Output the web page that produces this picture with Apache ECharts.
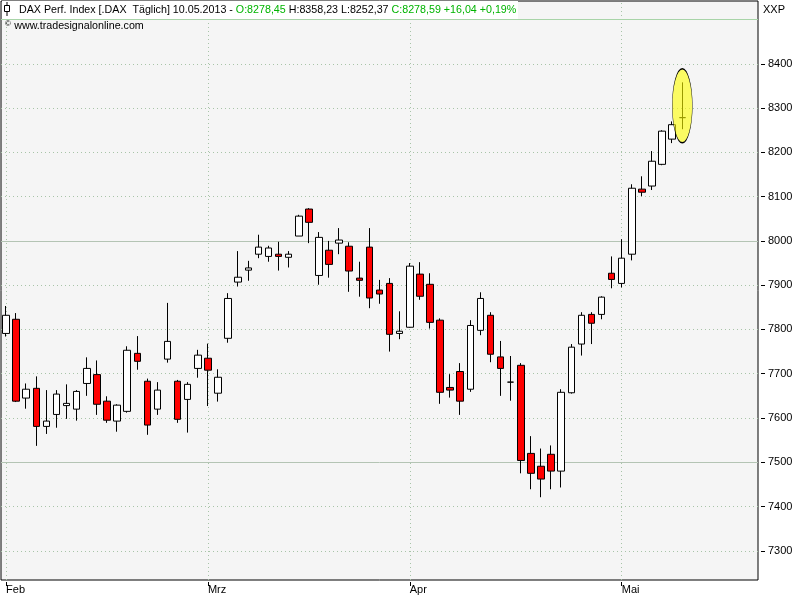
<!DOCTYPE html>
<html><head><meta charset="utf-8">
<script src="https://cdn.jsdelivr.net/npm/echarts@6/dist/echarts.min.js"></script>
<style>html,body{margin:0;padding:0;background:#fff}#c{width:800px;height:600px}</style>
</head><body><div id="c"></div>
<script>
// ---- data ----
const dates = [
 '01.02.2013','04.02.2013','05.02.2013','06.02.2013','07.02.2013','08.02.2013','11.02.2013','12.02.2013','13.02.2013','14.02.2013',
 '15.02.2013','18.02.2013','19.02.2013','20.02.2013','21.02.2013','22.02.2013','25.02.2013','26.02.2013','27.02.2013','28.02.2013',
 '01.03.2013','04.03.2013','05.03.2013','06.03.2013','07.03.2013','08.03.2013','11.03.2013','12.03.2013','13.03.2013','14.03.2013',
 '15.03.2013','18.03.2013','19.03.2013','20.03.2013','21.03.2013','22.03.2013','25.03.2013','26.03.2013','27.03.2013','28.03.2013',
 '02.04.2013','03.04.2013','04.04.2013','05.04.2013','08.04.2013','09.04.2013','10.04.2013','11.04.2013','12.04.2013','15.04.2013',
 '16.04.2013','17.04.2013','18.04.2013','19.04.2013','22.04.2013','23.04.2013','24.04.2013','25.04.2013','26.04.2013','29.04.2013',
 '30.04.2013','02.05.2013','03.05.2013','06.05.2013','07.05.2013','08.05.2013','09.05.2013','10.05.2013'
];
const opens = [
 7791,7823,7645,7667,7581,7608,7628,7620,7678,7698,
 7638,7593,7615,7746,7683,7620,7733,7683,7642,7712,
 7735,7656,7780,7907,7934,7970,7965,7970,7963,8011,
 8072,7922,7979,7995,7988,7916,7986,7889,7904,7791,
 7805,7925,7902,7821,7669,7705,7665,7798,7832,7738,
 7681,7719,7520,7491,7518,7480,7657,7767,7834,7834,
 7927,7904,7970,8117,8124,8173,8230,8278.45
];
const highs = [
 7853,7837,7678,7694,7663,7663,7676,7663,7737,7730,
 7649,7631,7762,7785,7689,7681,7860,7686,7681,7754,
 7768,7710,7882,7977,7955,8014,7989,7998,7977,8059,
 8074,8020,8000,8029,7997,7953,8029,7912,7916,7841,
 7950,7952,7927,7825,7699,7724,7821,7884,7839,7774,
 7740,7724,7559,7531,7538,7665,7767,7839,7839,7875,
 7965,8004,8128,8146,8203,8250,8270,8358.23
];
const lows = [
 7784,7636,7621,7537,7564,7578,7598,7594,7650,7607,
 7589,7569,7612,7709,7562,7607,7725,7589,7567,7691,
 7627,7637,7770,7897,7910,7961,7953,7933,7940,8011,
 7995,7901,7917,7970,7885,7874,7848,7858,7750,7778,
 7804,7867,7802,7632,7646,7607,7659,7787,7726,7650,
 7639,7475,7439,7421,7439,7443,7655,7741,7767,7823,
 7893,7895,7956,8101,8115,8171,8221,8252.37
];
const closes = [
 7832,7638,7665,7581,7593,7654,7633,7660,7712,7631,
 7595,7629,7753,7728,7584,7663,7773,7597,7676,7742,
 7708,7692,7870,7918,7939,7986,7984,7965,7970,8056,
 8042,8008,7947,8002,7932,7911,7871,7880,7789,7796,
 7943,7875,7816,7658,7663,7638,7809,7870,7744,7712,
 7681,7504,7475,7462,7480,7658,7760,7832,7814,7873,
 7913,7961,8119,8110,8180,8248,8262.55,8278.59
];
const monthNames = {'01':'Jan','02':'Feb','03':'Mrz','04':'Apr','05':'Mai','06':'Jun'};
const yTickValues = [7300,7400,7500,7600,7700,7800,7900,8000,8100,8200,8300,8400];
const solidLevels = [7500, 8000];
const topLevel = 8500;
const yMin = 7234, yMax = 8542;
const padSlots = 7;
const instrument = 'DAX Perf. Index [.DAX  Täglich]';
const watermark = 'www.tradesignalonline.com';
const extraLabel = 'XXP';

// ---- derived ----
const FONT = 'Liberation Sans';
const categories = dates.concat(Array.from({length: padSlots}, (_, i) => 'pad' + i));
const monthStarts = [];
dates.forEach((d, i) => { if (i === 0 || d.slice(3,5) !== dates[i-1].slice(3,5)) monthStarts.push(i); });
const msSet = new Set(monthStarts);
const ohlc = dates.map((d, i) => [opens[i], closes[i], lows[i], highs[i]]);
const last = dates.length - 1;
const fmt = v => v.toFixed(2).replace('.', ',');
const chg = closes[last] - closes[last - 1];
const pct = chg / closes[last - 1] * 100;
const sign = v => (v >= 0 ? '+' : '');
const headerRich = '{k|' + instrument + ' ' + dates[last] + ' - }' +
  '{g|O:' + fmt(opens[last]) + '}' +
  '{k| H:' + fmt(highs[last]) + ' L:' + fmt(lows[last]) + ' }' +
  '{g|C:' + fmt(closes[last]) + ' ' + sign(chg) + fmt(chg) + ' ' + sign(pct) + fmt(pct) + '%}';

const chart = echarts.init(document.getElementById('c'), null, {renderer: 'canvas'});
const dotted = {color: '#a8c4a8', type: [1, 3], width: 1};
const HF = 10.7;
chart.setOption({
  animation: false,
  backgroundColor: '#ffffff',
  grid: {left: 1, top: 1, width: 757, height: 579, show: true, backgroundColor: '#f5f5f5',
         borderColor: '#000', borderWidth: 1, containLabel: false},
  xAxis: {
    type: 'category', data: categories, boundaryGap: true, offset: 2,
    axisLine: {show: false},
    axisTick: {show: true, alignWithLabel: true, length: 4, interval: i => msSet.has(i), lineStyle: {color: '#000'}},
    axisLabel: {interval: i => msSet.has(i), formatter: v => monthNames[v.slice(3,5)] || '',
                align: 'left', margin: 2, color: '#000', fontSize: 11, fontFamily: FONT},
    splitLine: {show: false}
  },
  yAxis: {
    type: 'value', position: 'right', min: yMin, max: yMax, offset: 3,
    axisLine: {show: false},
    axisTick: {show: true, length: 4, customValues: yTickValues, lineStyle: {color: '#000'}},
    axisLabel: {customValues: yTickValues, formatter: v => String(v), margin: 7, color: '#000', fontSize: 11, fontFamily: FONT},
    splitLine: {show: true, lineStyle: dotted}
  },
  series: [
    {
      type: 'candlestick', data: ohlc, barWidth: 7, silent: true, z: 2,
      itemStyle: {color: '#ffffff', color0: '#ff0000', borderColor: '#000000', borderColor0: '#000000',
                  borderColorDoji: '#000000', borderWidth: 1},
      markLine: {
        silent: true, z: 1, symbol: ['none', 'none'], label: {show: false}, animation: false,
        data: monthStarts.map(i => ({xAxis: i, lineStyle: dotted}))
          .concat(solidLevels.map(v => ({yAxis: v, lineStyle: {color: '#b4c4b4', type: 'solid', width: 1}})))
          .concat([{yAxis: topLevel, lineStyle: {color: '#a8d4a8', type: 'solid', width: 1}}])
      }
    },
    {
      type: 'scatter', silent: true, z: 5,
      data: [[last, (highs[last] + lows[last]) / 2]],
      symbol: 'circle', symbolSize: [20, 74],
      itemStyle: {color: 'rgba(255,255,0,0.6)', borderColor: '#000', borderWidth: 0.8, opacity: 1}
    }
  ],
  graphic: [
    {type: 'rect', z: 100, shape: {x: 2, y: 1, width: 516, height: 18}, style: {fill: '#ffffff'}},
    {type: 'line', z: 101, shape: {x1: 7, y1: 2, x2: 7, y2: 16}, style: {stroke: '#000', lineWidth: 1}},
    {type: 'rect', z: 102, shape: {x: 4.5, y: 5.5, width: 5, height: 6}, style: {fill: '#fff', stroke: '#000', lineWidth: 1}},
    {type: 'text', z: 103, x: 19, y: 10, style: {
      text: headerRich, verticalAlign: 'middle', font: HF + 'px ' + FONT,
      rich: {k: {fill: '#000', fontSize: HF, fontFamily: FONT}, g: {fill: '#00b400', fontSize: HF, fontFamily: FONT}}
    }},
    {type: 'text', z: 103, x: 5, y: 26, style: {
      text: '{s|©} {k|' + watermark + '}', verticalAlign: 'middle',
      rich: {s: {fill: '#000', fontSize: 8, fontFamily: FONT, verticalAlign: 'top'}, k: {fill: '#000', fontSize: HF, fontFamily: FONT}}
    }},
    {type: 'text', z: 103, x: 763, y: 10, style: {text: extraLabel, verticalAlign: 'middle', fill: '#000', font: '11px ' + FONT}}
  ]
});
</script></body></html>
